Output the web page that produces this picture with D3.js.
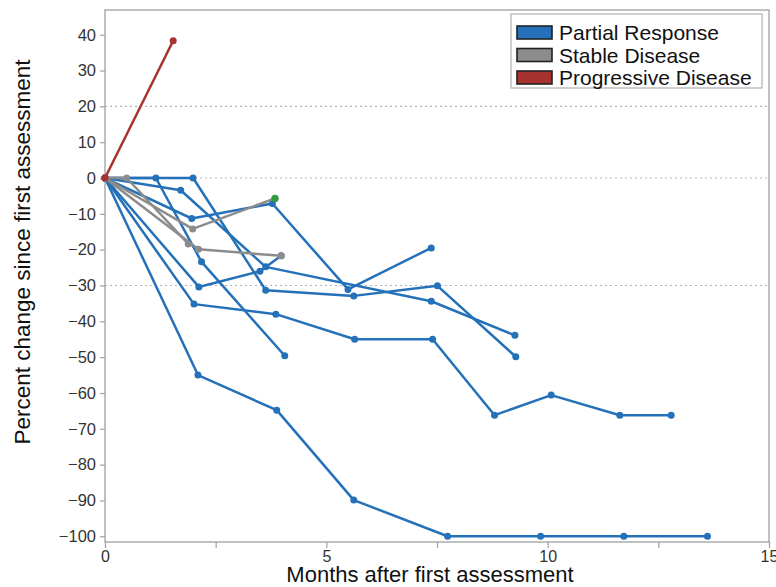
<!DOCTYPE html>
<html>
<head>
<meta charset="utf-8">
<script src="https://cdn.jsdelivr.net/npm/d3@7"></script>
<style>
  body { margin: 0; background: #fff; }
  text { font-family: "Liberation Sans", Arial, sans-serif; }
</style>
</head>
<body>
<svg id="chart" width="776" height="587"></svg>
<script>
// [months, percent change] per patient
const partialResponse = [
    [[0, 0], [2.1, -55], [3.88, -64.8], [5.62, -89.9], [7.74, -100], [9.84, -100], [11.72, -100], [13.61, -100]],
    [[0, 0], [2.01, -35.2], [3.86, -38], [5.64, -45], [7.4, -45], [8.8, -66.2], [10.08, -60.6], [11.63, -66.2], [12.79, -66.2]],
    [[0, 0], [1.15, 0], [2.18, -23.4], [4.06, -49.6]],
    [[0, 0], [1.96, -11.3], [3.78, -7.1], [5.49, -31.1], [7.37, -19.5]],
    [[0, 0], [1.99, 0], [3.63, -31.3], [5.62, -32.9], [7.51, -30.1], [9.28, -49.9]],
    [[0, 0], [1.71, -3.4], [3.63, -24.8], [7.37, -34.4], [9.26, -43.9]],
    [[0, 0], [2.12, -30.4], [3.5, -26], [3.98, -21.7]]
];
const stableDisease = [
    [[0, 0], [1.98, -14.2], [3.84, -5.7]],
    [[0, 0], [0.49, 0], [1.88, -18.4]],
    [[0, 0], [2.11, -19.9], [3.98, -21.7]]
];
const progressiveDisease = [
    [[0, 0], [1.54, 38.3]]
];
const greenPoints = [[3.84, -5.7]];

const yTicks = [40, 30, 20, 10, 0, -10, -20, -30, -40, -50, -60, -70, -80, -90, -100];
const xTicks = [0, 2.5, 5, 7.5, 10, 12.5, 15];
const xLabels = [0, 5, 10, 15];
const refLines = [20, 0, -30];
const legendNames = ["Partial Response", "Stable Disease", "Progressive Disease"];
const colors = ["#2471b9", "#8c8c8c", "#a8322f"];

const svg = d3.select("#chart");
const plot = { left: 105, right: 769, top: 10, bottom: 542 };

const x = d3.scaleLinear().domain([0, 15]).range([plot.left, plot.right]);
const y = d3.scaleLinear().domain([-101.6, 46.9]).range([plot.bottom, plot.top]);

// dotted reference lines
svg.selectAll(".ref")
    .data(refLines)
    .enter().append("line")
    .attr("x1", plot.left).attr("x2", plot.right)
    .attr("y1", d => y(d)).attr("y2", d => y(d))
    .attr("stroke", "#b5b5b5")
    .attr("stroke-width", 1.2)
    .attr("stroke-dasharray", "2,3");

// frame
svg.append("rect")
    .attr("x", plot.left).attr("y", plot.top)
    .attr("width", plot.right - plot.left).attr("height", plot.bottom - plot.top)
    .attr("fill", "none")
    .attr("stroke", "#a0a0a0")
    .attr("stroke-width", 1.3);

const yAxis = d3.axisLeft(y).tickValues(yTicks).tickSize(5).tickPadding(4)
    .tickFormat(d => d < 0 ? "\u2212" + Math.abs(d) : d);
svg.append("g")
    .attr("transform", "translate(" + plot.left + ",0)")
    .call(yAxis)
    .call(g => g.select(".domain").remove())
    .call(g => g.selectAll("line").attr("stroke", "#a0a0a0").attr("stroke-width", 1.2))
    .call(g => g.selectAll("text").attr("fill", "#333").style("font-size", "16.5px"));

const xAxis = d3.axisBottom(x).tickValues(xTicks).tickSize(6).tickPadding(3)
    .tickFormat(d => xLabels.includes(d) ? d : "");
svg.append("g")
    .attr("transform", "translate(0," + plot.bottom + ")")
    .call(xAxis)
    .call(g => g.select(".domain").remove())
    .call(g => g.selectAll("line").attr("stroke", "#a0a0a0").attr("stroke-width", 1.2))
    .call(g => g.selectAll("text").attr("fill", "#333").style("font-size", "16px"));

// axis titles
svg.append("text")
    .attr("x", 430)
    .attr("y", 582)
    .attr("text-anchor", "middle")
    .style("font-size", "22px")
    .attr("fill", "#111")
    .text("Months after first assessment");

svg.append("text")
    .attr("transform", "translate(30," + 252 + ") rotate(-90)")
    .attr("text-anchor", "middle")
    .style("font-size", "22.5px")
    .attr("fill", "#111")
    .text("Percent change since first assessment");

const line = d3.line().x(d => x(d[0])).y(d => y(d[1]));

function drawGroup(series, color) {
    const g = svg.append("g");
    series.forEach(s => {
        g.append("path")
            .datum(s)
            .attr("d", line)
            .attr("fill", "none")
            .attr("stroke", color)
            .attr("stroke-width", 2.5)
            .attr("stroke-linejoin", "round");
        g.selectAll(null)
            .data(s)
            .enter().append("circle")
            .attr("cx", d => x(d[0]))
            .attr("cy", d => y(d[1]))
            .attr("r", 3.5)
            .attr("fill", color);
    });
}

drawGroup(partialResponse, colors[0]);
drawGroup(stableDisease, colors[1]);
drawGroup(progressiveDisease, colors[2]);

svg.selectAll(".green")
    .data(greenPoints)
    .enter().append("circle")
    .attr("cx", d => x(d[0]))
    .attr("cy", d => y(d[1]))
    .attr("r", 3.6)
    .attr("fill", "#2e9b3e");

// legend
const legend = svg.append("g").attr("transform", "translate(511,14)");
legend.append("rect")
    .attr("width", 251).attr("height", 74)
    .attr("fill", "#fff")
    .attr("stroke", "#b0b0b0")
    .attr("stroke-width", 1.2);
legendNames.forEach((name, i) => {
    legend.append("rect")
        .attr("x", 6).attr("y", 12 + i * 22.5)
        .attr("width", 35).attr("height", 13)
        .attr("fill", colors[i])
        .attr("stroke", "#222")
        .attr("stroke-width", 1.6);
    legend.append("text")
        .attr("x", 48).attr("y", 26 + i * 22.5)
        .style("font-size", "21px")
        .attr("fill", "#111")
        .text(name);
});
</script>
</body>
</html>
